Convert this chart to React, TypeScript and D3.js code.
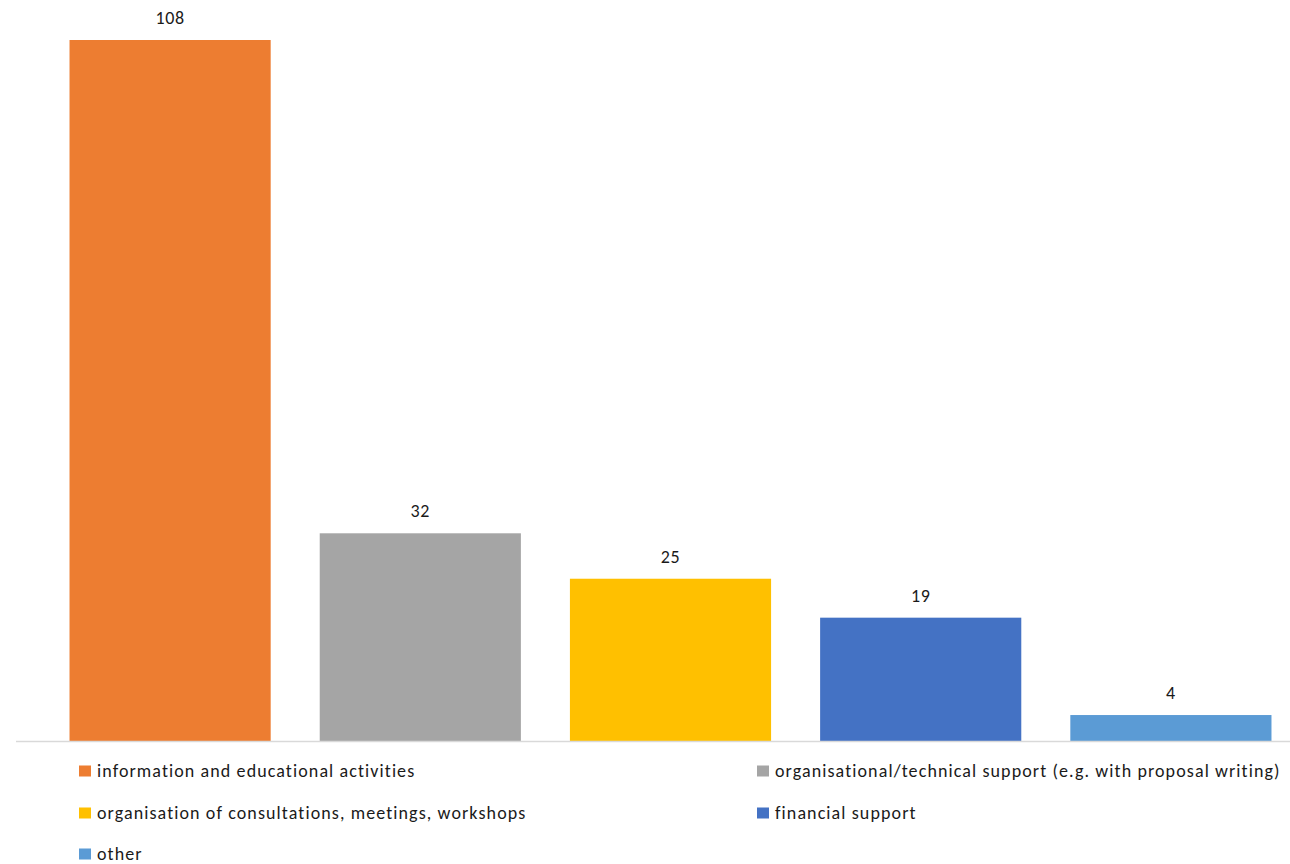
import React from "react";
import * as d3 from "d3";

const categories = [
  "information and educational activities",
  "organisational/technical support (e.g. with proposal writing)",
  "organisation of consultations, meetings, workshops",
  "financial support",
  "other",
];
const values = [108, 32, 25, 19, 4];
const colors = ["#ED7D31", "#A5A5A5", "#FFC000", "#4472C4", "#5B9BD5"];

const W = 1290;
const H = 864;
const FONT = "Carlito, Calibri, Lato, 'Noto Sans', sans-serif";

export default function App() {
  const x = d3
    .scaleBand<string>()
    .domain(categories)
    .range([45, 1296])
    .paddingInner(0.196)
    .paddingOuter(0.098);
  const y = d3.scaleLinear().domain([0, 108]).range([741, 40]);

  const legendPos = [
    [79, 771],
    [757, 771],
    [79, 813],
    [757, 813],
    [79, 854],
  ];

  return (
    <svg
      width={W}
      height={H}
      style={{ position: "absolute", left: 0, top: 0, background: "#fff" }}
      fontFamily={FONT}
    >
      {categories.map((c, i) => (
        <g key={c}>
          <rect
            x={x(c)}
            y={y(values[i])}
            width={x.bandwidth()}
            height={y(0) - y(values[i])}
            fill={colors[i]}
          />
          <text
            x={(x(c) as number) + x.bandwidth() / 2}
            y={y(values[i]) - 22}
            textAnchor="middle"
            dominantBaseline="central"
            fontSize={18}
            letterSpacing={0.6}
            fill="#1a1a1a"
          >
            {values[i]}
          </text>
        </g>
      ))}
      <line x1={16} x2={1290} y1={741.5} y2={741.5} stroke="#D9D9D9" strokeWidth={1.5} />
      {categories.map((c, i) => (
        <g key={"l" + c} transform={`translate(${legendPos[i][0]},${legendPos[i][1]})`}>
          <rect x={0} y={-5.5} width={12} height={11} fill={colors[i]} />
          <text
            x={18}
            y={0}
            dominantBaseline="central"
            fontSize={18}
            letterSpacing={1.1}
            fill="#1a1a1a"
          >
            {c}
          </text>
        </g>
      ))}
    </svg>
  );
}
